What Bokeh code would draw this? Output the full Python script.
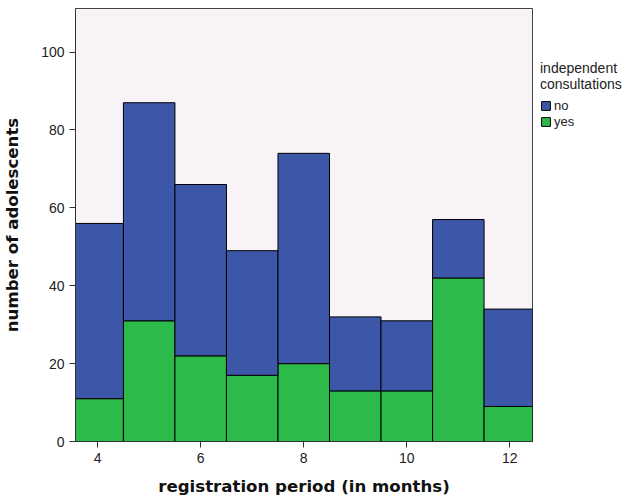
from bokeh.plotting import figure
from bokeh.models import ColumnDataSource, Range1d, FixedTicker, Legend, LegendItem
from bokeh.embed import file_html
from bokeh.resources import INLINE

months = [4, 5, 6, 7, 8, 9, 10, 11, 12]
yes_counts = [11, 31, 22, 17, 20, 13, 13, 42, 9]
no_counts = [45, 56, 44, 32, 54, 19, 18, 15, 25]
x_ticks = [4, 6, 8, 10, 12]
y_ticks = [0, 20, 40, 60, 80, 100]

BLUE = "#3C56A8"
GREEN = "#2CBA4A"
BG = "#F8F3F7"

src = ColumnDataSource(dict(months=months, yes=yes_counts, no=no_counts))

p = figure(frame_width=457, frame_height=433, output_backend="svg", toolbar_location=None,
           x_range=Range1d(3.57, 12.44), y_range=Range1d(0, 111.2),
           min_border_left=73, min_border_right=0, min_border_top=8, min_border_bottom=58)
p.background_fill_color = BG
p.border_fill_color = "white"
p.outline_line_color = "#444444"
p.outline_line_width = 1
p.grid.visible = False

r = p.vbar_stack(["yes", "no"], x="months", width=1.0, source=src,
                 fill_color=[GREEN, BLUE], line_color="black", line_width=1)

for ax in (p.xaxis[0], p.yaxis[0]):
    ax.major_label_text_font = "Liberation Sans"
    ax.major_label_text_font_size = "14px"
    ax.major_label_text_color = "#222222"
    ax.axis_label_text_font = "DejaVu Sans"
    ax.axis_label_text_font_style = "bold"
    ax.axis_label_text_font_size = "16.6px"
    ax.axis_label_text_color = "#111111"
    ax.minor_tick_line_color = None
    ax.major_tick_in = 0
    ax.major_tick_out = 6
    ax.axis_line_color = "#333333"
    ax.major_tick_line_color = "#333333"

p.xaxis.ticker = FixedTicker(ticks=x_ticks)
p.yaxis.ticker = FixedTicker(ticks=y_ticks)
p.xaxis.axis_label = "registration period (in months)"
p.yaxis.axis_label = "number of adolescents"
p.xaxis.axis_label_standoff = 11
p.yaxis.axis_label_standoff = 16

legend = Legend(items=[LegendItem(label="no", renderers=[r[1]]),
                       LegendItem(label="yes", renderers=[r[0]])],
                title="independent\nconsultations",
                location=(8, 312), orientation="vertical",
                background_fill_alpha=0, border_line_color=None,
                title_text_font="Liberation Sans", title_text_font_size="14px",
                title_text_font_style="normal", title_text_color="#222222",
                title_text_align="center", title_text_line_height=0.95,
                title_standoff=6,
                label_text_font="Liberation Sans", label_text_font_size="13px",
                label_text_color="#222222",
                glyph_width=11, glyph_height=11, label_standoff=3,
                spacing=1, padding=0, margin=4, label_height=12)
p.add_layout(legend, "right")

open("out.html", "w").write(file_html(p, INLINE))
